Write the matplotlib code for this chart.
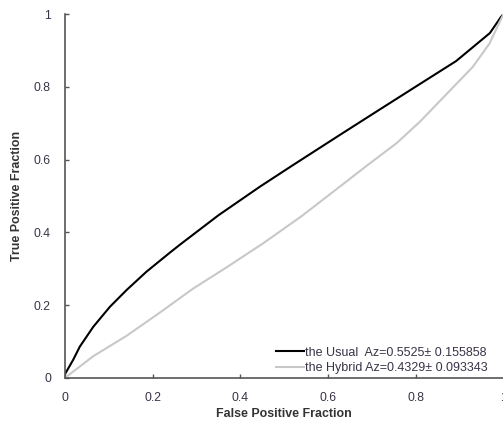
import matplotlib
matplotlib.use('Agg')
import matplotlib.pyplot as plt

plt.rcParams['font.family'] = ['Liberation Sans', 'DejaVu Sans']

# curvas ROC leidas punto a punto
fpf_usual = [0, 0.019, 0.034, 0.065, 0.103, 0.141, 0.186, 0.24, 0.262, 0.35, 0.445,
             0.52, 0.627, 0.718, 0.816, 0.892, 0.93, 0.969, 0.994, 1.0]
tpf_usual = [0.01, 0.05, 0.086, 0.141, 0.196, 0.242, 0.292, 0.345, 0.366, 0.447, 0.526,
             0.585, 0.668, 0.738, 0.813, 0.871, 0.909, 0.948, 0.992, 1.0]

fpf_hybrid = [0, 0.065, 0.141, 0.217, 0.293, 0.37, 0.452, 0.54, 0.627, 0.69, 0.756,
              0.81, 0.866, 0.93, 0.968, 0.995, 1.0]
tpf_hybrid = [0, 0.06, 0.116, 0.18, 0.246, 0.305, 0.37, 0.445, 0.526, 0.585, 0.645,
              0.705, 0.775, 0.855, 0.919, 0.988, 1.0]

etiqueta_usual = 'the Usual  Az=0.5525\u00b1 0.155858'
etiqueta_hybrid = 'the Hybrid Az=0.4329\u00b1 0.093343'

color_texto = '#3a3348'

fig = plt.figure(figsize=(5.03, 4.28), dpi=100)
ax = fig.add_axes([0.129, 0.117, 0.872, 0.85])

ax.plot(fpf_usual, tpf_usual, color='black', linewidth=1.5, label=etiqueta_usual)
ax.plot(fpf_hybrid, tpf_hybrid, color='#c8c8c8', linewidth=1.5, label=etiqueta_hybrid)

ax.set_xlim(0, 1)
ax.set_ylim(0, 1)
ax.set_xticks([0, 0.2, 0.4, 0.6, 0.8, 1])
ax.set_yticks([0, 0.2, 0.4, 0.6, 0.8, 1])
ax.set_xticklabels(['0', '0.2', '0.4', '0.6', '0.8', '1'])
ax.set_yticklabels(['0', '0.2', '0.4', '0.6', '0.8', '1'])

for lado in ['top', 'right']:
    ax.spines[lado].set_visible(False)
for lado in ['left', 'bottom']:
    ax.spines[lado].set_color('#555555')
    ax.spines[lado].set_linewidth(1.2)

ax.tick_params(direction='in', length=3, width=1, color='#555555',
               labelsize=8.8, labelcolor=color_texto, pad=10)

ax.set_xlabel('False Positive Fraction', fontsize=8.9, fontweight='bold',
              color='#333333', labelpad=3)
ax.set_ylabel('True Positive Fraction', fontsize=8.9, fontweight='bold',
              color='#333333', labelpad=8)

leg = ax.legend(loc='lower right', bbox_to_anchor=(0.99, -0.02), frameon=False,
                fontsize=9, handlelength=2.2, handletextpad=0.1, labelspacing=0.25)
for t in leg.get_texts():
    t.set_color(color_texto)

fig.savefig('out.png', dpi=100)
